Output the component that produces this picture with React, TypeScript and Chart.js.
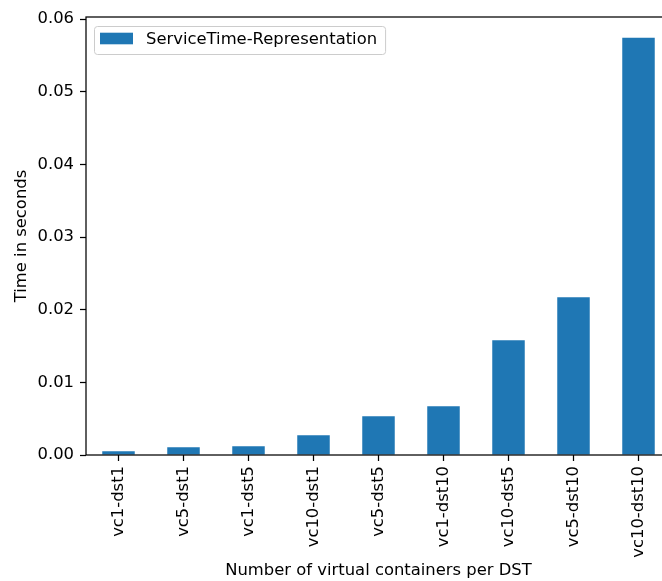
import React, { useEffect, useRef } from "react";
import { Chart, registerables } from "chart.js";

Chart.register(...registerables);

// Service time per virtual-container / DST configuration
const categories = [
  "vc1-dst1",
  "vc5-dst1",
  "vc1-dst5",
  "vc10-dst1",
  "vc5-dst5",
  "vc1-dst10",
  "vc10-dst5",
  "vc5-dst10",
  "vc10-dst10",
];
const serviceTime = [0.00051, 0.00106, 0.0012, 0.00271, 0.00533, 0.00671, 0.0158, 0.02173, 0.05742];
const seriesLabel = "ServiceTime-Representation";
const yTicks = [0, 0.01, 0.02, 0.03, 0.04, 0.05, 0.06];
const xAxisTitle = "Number of virtual containers per DST";
const yAxisTitle = "Time in seconds";

const FONT = "'DejaVu Sans', 'Liberation Sans', sans-serif";
const FONT_SIZE = 16.4;
const BAR_COLOR = "#1f77b4";

// Full box around the plotting area (top and right sides included)
const axesFrame = {
  id: "axesFrame",
  afterDatasetsDraw(chart: any) {
    const { ctx, chartArea: a } = chart;
    ctx.save();
    ctx.strokeStyle = "#000";
    ctx.lineWidth = 1.25;
    ctx.strokeRect(a.left, a.top, a.right - a.left, a.bottom - a.top);
    ctx.restore();
  },
};

// Framed legend in the upper-left corner of the plotting area
const insetLegend = {
  id: "insetLegend",
  afterDraw(chart: any) {
    const { ctx, chartArea: a } = chart;
    const ds = chart.data.datasets[0];
    ctx.save();
    ctx.font = `${FONT_SIZE}px ${FONT}`;
    const tw = ctx.measureText(ds.label).width;
    const x = a.left + 8;
    const y = a.top + 9;
    const w = 52 + tw + 8;
    const h = 28;
    ctx.beginPath();
    (ctx as any).roundRect(x + 0.5, y + 0.5, w, h, 3);
    ctx.fillStyle = "rgba(255,255,255,0.8)";
    ctx.fill();
    ctx.strokeStyle = "#cccccc";
    ctx.lineWidth = 1;
    ctx.stroke();
    ctx.fillStyle = ds.backgroundColor;
    ctx.fillRect(x + 6, y + 6.7, 33, 11.6);
    ctx.fillStyle = "#000";
    ctx.textBaseline = "middle";
    ctx.textAlign = "left";
    ctx.fillText(ds.label, x + 52, y + 14);
    ctx.restore();
  },
};

export default function App() {
  const canvasRef = useRef<HTMLCanvasElement | null>(null);

  useEffect(() => {
    const canvas = canvasRef.current;
    if (!canvas) return;
    Chart.defaults.font.family = FONT;
    Chart.defaults.font.size = FONT_SIZE;
    Chart.defaults.color = "#000";

    const yMax = Math.max(...serviceTime) * 1.05;

    const chart = new Chart(canvas, {
      type: "bar",
      data: {
        labels: categories,
        datasets: [
          {
            label: seriesLabel,
            data: serviceTime,
            backgroundColor: BAR_COLOR,
            borderWidth: 0,
            categoryPercentage: 1,
            barPercentage: 0.5,
          },
        ],
      },
      options: {
        animation: false,
        responsive: false,
        maintainAspectRatio: false,
        devicePixelRatio: 1,
        layout: { padding: { top: 17, right: 9, left: 0, bottom: 0 } },
        plugins: {
          legend: { display: false },
          tooltip: { enabled: false },
        },
        scales: {
          x: {
            type: "category",
            offset: true,
            border: { display: false },
            grid: {
              offset: false,
              drawOnChartArea: false,
              drawTicks: true,
              tickLength: 6,
              tickColor: "#000",
              tickWidth: 1.25,
            },
            ticks: {
              autoSkip: false,
              minRotation: 90,
              maxRotation: 90,
              padding: 5,
              color: "#000",
              font: { size: FONT_SIZE, family: FONT },
            },
            title: {
              display: true,
              text: xAxisTitle,
              color: "#000",
              font: { size: FONT_SIZE, family: FONT },
              padding: { top: 0, bottom: 0 },
            },
            afterFit(scale: any) {
              scale.height = 126;
            },
          },
          y: {
            type: "linear",
            min: 0,
            max: yMax,
            border: { display: false },
            grid: {
              drawOnChartArea: false,
              drawTicks: true,
              tickLength: 6,
              tickColor: "#000",
              tickWidth: 1.25,
            },
            ticks: {
              includeBounds: false,
              padding: 6,
              color: "#000",
              font: { size: FONT_SIZE, family: FONT },
              callback: (v: any) => Number(v).toFixed(2),
            },
            afterBuildTicks(scale: any) {
              scale.ticks = yTicks.map((v) => ({ value: v }));
            },
            title: {
              display: true,
              text: yAxisTitle,
              color: "#000",
              font: { size: FONT_SIZE, family: FONT },
              padding: { top: 11.5, bottom: 0 },
            },
            afterFit(scale: any) {
              scale.width = 86;
            },
          },
        },
      },
      plugins: [axesFrame, insetLegend],
    });

    return () => chart.destroy();
  }, []);

  return (
    <div
      style={{
        position: "fixed",
        left: 0,
        top: 0,
        width: 662,
        height: 581,
        overflow: "hidden",
        background: "#fff",
      }}
    >
      <canvas
        ref={canvasRef}
        width={680}
        height={581}
        style={{ display: "block", width: 680, height: 581 }}
      />
    </div>
  );
}
